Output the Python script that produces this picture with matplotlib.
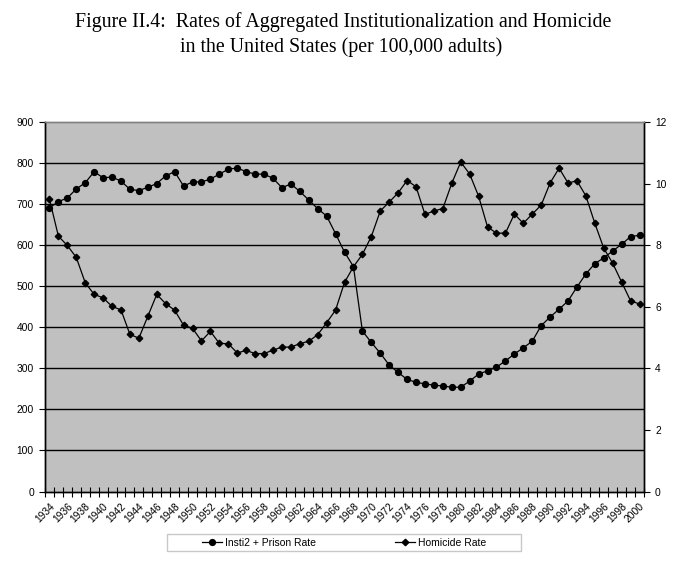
import matplotlib
matplotlib.use("Agg")
import matplotlib.pyplot as plt
from matplotlib.patches import Rectangle
import numpy as np

years = list(range(1934, 2001))

insti_prison = [691, 706, 715, 737, 752, 779, 764, 766, 756, 736,
                733, 741, 750, 769, 779, 744, 754, 754, 761, 773,
                785, 788, 779, 773, 773, 763, 740, 749, 731, 710,
                689, 671, 628, 583, 548, 391, 363, 337, 308, 290,
                273, 266, 262, 259, 257, 254, 254, 269, 286, 294,
                303, 318, 335, 350, 366, 404, 425, 444, 464, 498,
                530, 555, 569, 586, 602, 621, 624]

homicide = [9.49, 8.29, 7.99, 7.60, 6.78, 6.40, 6.29, 6.01, 5.90, 5.10,
            4.98, 5.69, 6.40, 6.10, 5.89, 5.40, 5.30, 4.89, 5.20, 4.81,
            4.80, 4.50, 4.58, 4.48, 4.48, 4.59, 4.69, 4.69, 4.80, 4.88,
            5.09, 5.48, 5.89, 6.79, 7.30, 7.70, 8.28, 9.11, 9.40, 9.70,
            10.10, 9.90, 9.00, 9.11, 9.19, 10.01, 10.70, 10.31, 9.59, 8.59,
            8.39, 8.39, 9.01, 8.71, 9.01, 9.30, 10.02, 10.50, 10.02, 10.09,
            9.60, 8.71, 7.90, 7.41, 6.80, 6.19, 6.09]

left_ticks = [0, 100, 200, 300, 400, 500, 600, 700, 800, 900]
right_ticks = [0, 2, 4, 6, 8, 10, 12]

title1 = "Figure II.4:  Rates of Aggregated Institutionalization and Homicide"
title2 = "in the United States (per 100,000 adults)"

W, H = 680, 579
fig = plt.figure(figsize=(W / 100, H / 100), dpi=100)
fig.patch.set_facecolor("white")

x0, x1, ytop, ybot = 45, 644, 122, 491.5
ax = fig.add_axes([x0 / W, 1 - ybot / H, (x1 - x0) / W, (ybot - ytop) / H])
ax.set_facecolor("#C0C0C0")

n = len(years)
xs = np.arange(n)
ax.set_xlim(-0.5, n - 0.5)
ax.set_ylim(0, 900)

for v in left_ticks[1:-1]:
    ax.axhline(v, color="black", lw=1.0, zorder=1)

l1, = ax.plot(xs, insti_prison, color="black", lw=0.9, marker="o",
              markersize=4.2, markerfacecolor="black", markeredgecolor="black",
              zorder=3, label="Insti2 + Prison Rate")

ax2 = ax.twinx()
ax2.set_ylim(0, 12)
l2, = ax2.plot(xs, homicide, color="black", lw=0.9, marker="D",
               markersize=3.3, markerfacecolor="black", markeredgecolor="black",
               zorder=3, label="Homicide Rate")

for a in (ax, ax2):
    a.spines["top"].set_color("#808080")
    a.spines["top"].set_linewidth(1.0)
    for s in ("left", "right", "bottom"):
        a.spines[s].set_color("black")
        a.spines[s].set_linewidth(1.0)

tfont = dict(family="Liberation Sans", size=7.4)

ax.set_yticks(left_ticks)
ax.set_yticklabels([str(v) for v in left_ticks], **tfont)
ax.tick_params(axis="y", direction="out", length=4, width=0.8, pad=4)

ax2.set_yticks(right_ticks)
ax2.set_yticklabels([str(v) for v in right_ticks], **tfont)
ax2.tick_params(axis="y", direction="out", length=4, width=0.8, pad=4)

ax.set_xticks(xs[::2])
ax.set_xticklabels([str(y) for y in years[::2]], rotation=45, ha="right",
                   rotation_mode="anchor", **tfont)
ax.set_xticks(np.arange(n + 1) - 0.5, minor=True)
ax.tick_params(axis="x", which="major", length=0, pad=7)
ax.tick_params(axis="x", which="minor", direction="inout", length=7, width=0.8)

fig.text(75 / W, 1 - 27 / H, title1, family="Liberation Serif", fontsize=14.3,
         ha="left", va="baseline")
fig.text(180 / W, 1 - 52 / H, title2, family="Liberation Serif", fontsize=14.3,
         ha="left", va="baseline")

# legend box
fig.add_artist(Rectangle((167 / W, 1 - 551 / H), (521 - 167) / W, 17 / H,
                         transform=fig.transFigure, facecolor="white",
                         edgecolor="#C8C8C8", lw=1.0))
leg = fig.legend(handles=[l1, l2], loc="center", ncol=2,
                 bbox_to_anchor=(344.5 / W, 1 - 542.5 / H),
                 prop=dict(family="Liberation Sans", size=7.5),
                 frameon=False, columnspacing=7.6, handlelength=1.9,
                 handletextpad=0.3, borderpad=0.0)

fig.savefig("out.png", dpi=100, facecolor="white")
